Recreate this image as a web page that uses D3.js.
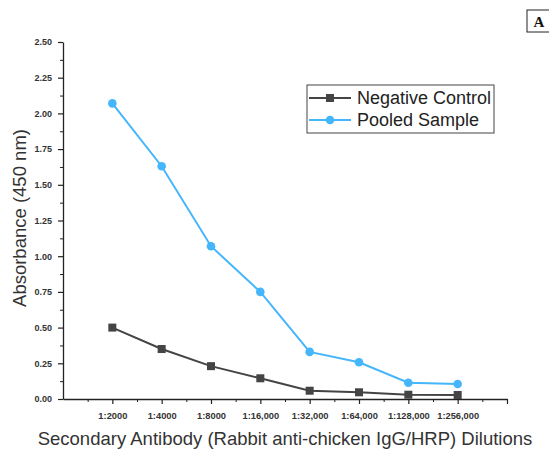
<!DOCTYPE html>
<html>
<head>
<meta charset="utf-8">
<script src="https://cdn.jsdelivr.net/npm/d3@7"></script>
<style>
  html, body { margin: 0; padding: 0; background: #fff; }
  svg { display: block; font-family: "Liberation Sans", Arial, sans-serif; }
</style>
</head>
<body>
<svg id="chart" width="549" height="452"></svg>
<script>
// Dilution series (x categories)
const dilutions = ["1:2000", "1:4000", "1:8000", "1:16,000", "1:32,000", "1:64,000", "1:128,000", "1:256,000"];
// Absorbance at 450 nm
const negativeControl = [0.50, 0.35, 0.23, 0.145, 0.058, 0.047, 0.030, 0.028];
const pooledSample    = [2.07, 1.63, 1.07, 0.75, 0.33, 0.257, 0.114, 0.105];
// Y-axis tick labels
const yTicks = [0.00, 0.25, 0.50, 0.75, 1.00, 1.25, 1.50, 1.75, 2.00, 2.25, 2.50];
const seriesNames = ["Negative Control", "Pooled Sample"];

const svg = d3.select("#chart");
const plotLeft = 63, plotRight = 507, plotTop = 42, plotBottom = 399;

// Categories sit at positions 1..8 on a 0..9 linear axis
const x = d3.scaleLinear().domain([0, dilutions.length + 1]).range([plotLeft, plotRight]);
const y = d3.scaleLinear().domain([0, 2.5]).range([plotBottom, plotTop]);

const axisColor = "#222";

// Y axis: major ticks with labels, minor ticks between
const yMinor = d3.range(0.125, 2.5, 0.25);
svg.append("g").attr("transform", `translate(${plotLeft},0)`)
  .call(d3.axisLeft(y).tickValues(yMinor).tickSize(3).tickFormat(""))
  .call(g => g.select(".domain").remove())
  .selectAll("line").attr("stroke", axisColor);
const yAxis = svg.append("g").attr("transform", `translate(${plotLeft},0)`)
  .call(d3.axisLeft(y).tickValues(yTicks).tickSize(5).tickSizeOuter(0).tickPadding(6).tickFormat(d3.format(".2f")));
yAxis.select(".domain").attr("stroke", axisColor).attr("stroke-width", 1.3);
yAxis.selectAll("line").attr("stroke", axisColor).attr("stroke-width", 1.2);
yAxis.selectAll("text").attr("font-size", 9).attr("font-weight", "bold").attr("fill", "#333");

// X axis: categories on major ticks, minor ticks halfway
const xMinor = d3.range(0.5, dilutions.length + 1, 1);
svg.append("g").attr("transform", `translate(0,${plotBottom})`)
  .call(d3.axisBottom(x).tickValues(xMinor).tickSize(3).tickFormat(""))
  .call(g => g.select(".domain").remove())
  .selectAll("line").attr("stroke", axisColor);
const xAxis = svg.append("g").attr("transform", `translate(0,${plotBottom})`)
  .call(d3.axisBottom(x).tickValues(d3.range(1, dilutions.length + 2))
    .tickSize(5).tickSizeOuter(0).tickPadding(8)
    .tickFormat(d => dilutions[d - 1] || ""));
xAxis.select(".domain").attr("stroke", axisColor).attr("stroke-width", 1.3);
xAxis.selectAll("line").attr("stroke", axisColor).attr("stroke-width", 1.2);
xAxis.selectAll("text").attr("font-size", 9.3).attr("font-weight", "bold").attr("fill", "#333");

// Axis titles
svg.append("text")
  .attr("transform", `translate(26,218) rotate(-90)`)
  .attr("text-anchor", "middle").attr("font-size", 18.5).attr("fill", "#333")
  .text("Absorbance (450 nm)");
svg.append("text")
  .attr("x", 285).attr("y", 445)
  .attr("text-anchor", "middle").attr("font-size", 18.5).attr("fill", "#333")
  .text("Secondary Antibody (Rabbit anti-chicken IgG/HRP) Dilutions");

// Series
const negColor = "#444444", pooledColor = "#45b6fb";
const line = d3.line().x((d, i) => x(i + 1)).y(d => y(d));

svg.append("path").datum(pooledSample)
  .attr("fill", "none").attr("stroke", pooledColor).attr("stroke-width", 2).attr("d", line);
svg.append("g").selectAll("circle").data(pooledSample).join("circle")
  .attr("cx", (d, i) => x(i + 1)).attr("cy", d => y(d)).attr("r", 4.3).attr("fill", pooledColor);

svg.append("path").datum(negativeControl)
  .attr("fill", "none").attr("stroke", negColor).attr("stroke-width", 2).attr("d", line);
svg.append("g").selectAll("rect").data(negativeControl).join("rect")
  .attr("x", (d, i) => x(i + 1) - 4).attr("y", d => y(d) - 4)
  .attr("width", 8).attr("height", 8).attr("fill", negColor);

// Legend
const legend = svg.append("g").attr("transform", "translate(307,85)");
legend.append("rect").attr("width", 187).attr("height", 48)
  .attr("fill", "#fff").attr("stroke", "#444").attr("stroke-width", 1);
const entries = [
  { name: seriesNames[0], color: negColor, shape: "square" },
  { name: seriesNames[1], color: pooledColor, shape: "circle" }
];
entries.forEach((e, i) => {
  const cy = 13 + i * 22;
  legend.append("line").attr("x1", 2).attr("x2", 44).attr("y1", cy).attr("y2", cy)
    .attr("stroke", e.color).attr("stroke-width", 2);
  if (e.shape === "square") {
    legend.append("rect").attr("x", 19).attr("y", cy - 4).attr("width", 8).attr("height", 8).attr("fill", e.color);
  } else {
    legend.append("circle").attr("cx", 23).attr("cy", cy).attr("r", 4.3).attr("fill", e.color);
  }
  legend.append("text").attr("x", 50).attr("y", cy + 6).attr("font-size", 18).attr("fill", "#222").text(e.name);
});

// Panel label
svg.append("rect").attr("x", 527).attr("y", 10).attr("width", 24).attr("height", 22)
  .attr("fill", "#fff").attr("stroke", "#222").attr("stroke-width", 1);
svg.append("text").attr("x", 539).attr("y", 27).attr("text-anchor", "middle")
  .attr("font-family", "Liberation Serif, Times New Roman, serif").attr("font-weight", "bold")
  .attr("font-size", 15).attr("fill", "#111").text("A");
</script>
</body>
</html>
